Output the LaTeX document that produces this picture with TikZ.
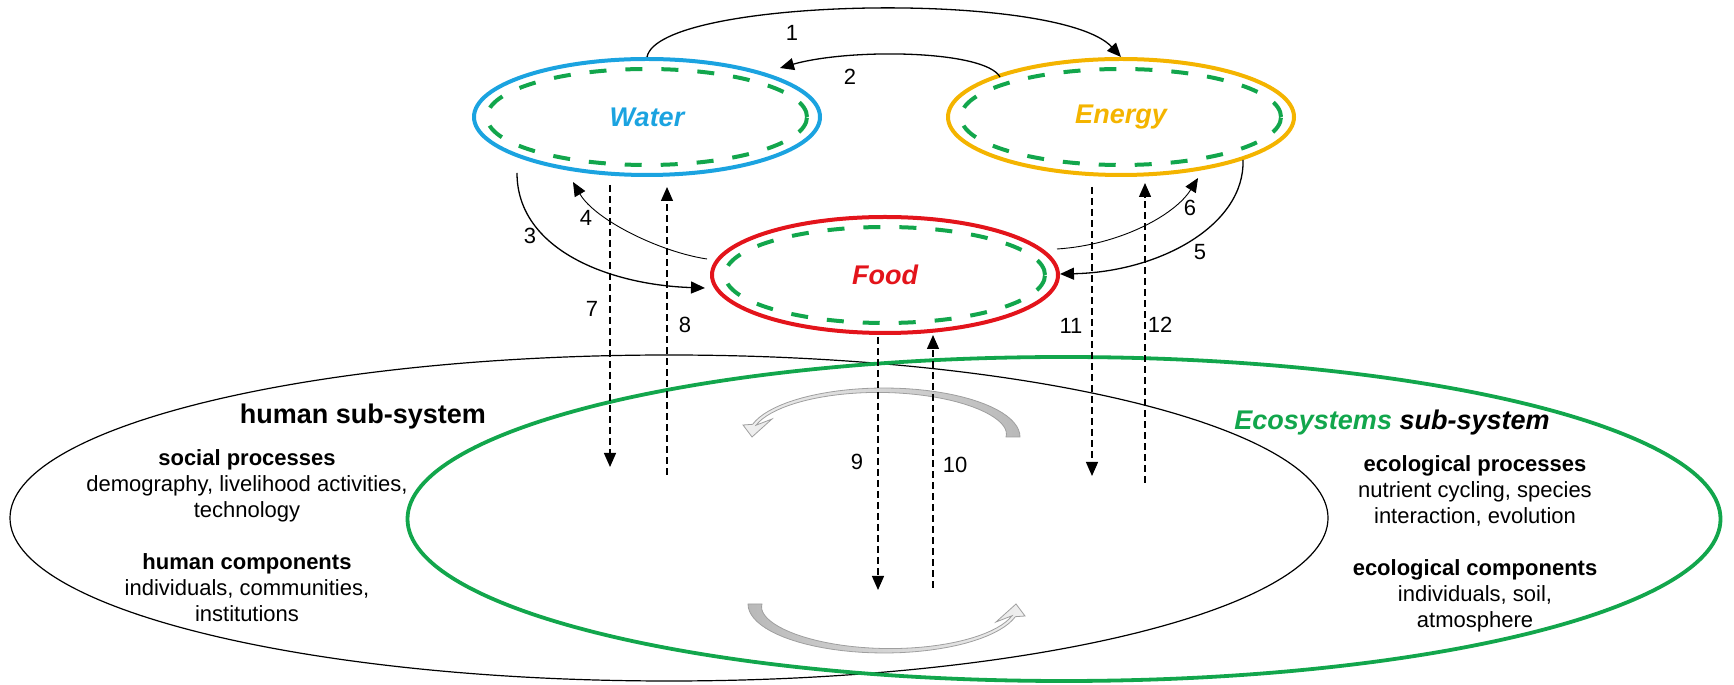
\documentclass[tikz,border=0pt]{standalone}
\usepackage{fontspec}
\setmainfont{Liberation Sans}
\usetikzlibrary{arrows.meta,calc,shapes.geometric}
\definecolor{waterblue}{HTML}{1BA3E0}
\definecolor{energygold}{HTML}{F4B400}
\definecolor{foodred}{HTML}{E3141B}
\definecolor{ecogreen}{HTML}{12A64C}

% tapered curved arrow (tail at the right, head at the left)
\tikzset{cycle fill/.style={left color=gray!12, right color=gray!55},
  cyclearrow/.pic={
  \path[draw=gray!75, line width=0.8pt, cycle fill]
    plot[domain=0:165, samples=40] ({136*cos(\x)}, {49*sin(\x)})
    -- (-141,12) -- (-132,0) -- (-112,18)
    -- plot[domain=165:0, samples=40] ({(132.5-10.5*(1-\x/165)^3)*cos(\x)}, {(45.5-10.5*(1-\x/165)^3)*sin(\x)})
    -- cycle;
}}

\begin{document}
\begin{tikzpicture}[x=1pt, y=1pt,
  font=\fontsize{22}{26}\selectfont,
  nexus/.style={draw, ellipse, line width=4pt, minimum width=346pt, minimum height=116pt, inner sep=0pt,
    font=\fontsize{27}{32}\selectfont\bfseries\itshape},
  rim/.style={ecogreen, line width=4pt, dash pattern=on 17pt off 19pt},
  sub/.style={draw, ellipse, line width=1.2pt, minimum width=1318pt, minimum height=326pt, inner sep=0pt},
  arr/.style={-{Triangle[length=14pt, width=12pt]}, line width=1.3pt},
  thin arr/.style={arr, line width=0.9pt},
  flow/.style={arr, dash pattern=on 7pt off 4pt},
  num/.style={inner sep=1pt},
  title/.style={font=\fontsize{27}{32}\selectfont\bfseries},
  block/.style={align=center, inner sep=0pt, anchor=north}]
  \useasboundingbox (0,0) rectangle (1734,685);
  % sub-systems
  \node[sub] (human) at (669,167) {};
  \node[sub, draw=ecogreen, line width=3.8pt, minimum width=1313pt, minimum height=324pt] (eco) at (1064,166) {};
  \node[title] (htitle) at (363,268.5) {human sub-system};
  \node[title, font=\fontsize{27}{32}\selectfont\bfseries\itshape] (etitle) at (1392,262.5) {\textcolor{ecogreen}{Ecosystems} sub-system};
  \node[block] (hlist) at (247,236) {\textbf{social processes}\\demography, livelihood activities,\\technology\\[26pt]
    \textbf{human components}\\individuals, communities,\\institutions};
  \node[block] (elist) at (1475,230) {\textbf{ecological processes}\\nutrient cycling, species\\interaction, evolution\\[26pt]
    \textbf{ecological components}\\individuals, soil,\\atmosphere};
  % cycles
  \pic at (884,248) {cyclearrow};
  \pic[rotate=180, cycle fill/.style={left color=gray!55, right color=gray!12}] at (884,81) {cyclearrow};
  % nexus
  \node[nexus, draw=waterblue, text=waterblue] (water) at (647,568) {Water};
  \node[nexus, draw=energygold, text=energygold] (energy) at (1121,568) {Energy};
  \node[nexus, draw=foodred, text=foodred] (food) at (885,410) {Food};
  \foreach \n in {water,energy,food} {\draw[rim] (\n.center) ellipse [x radius=160, y radius=48];}
  % links between the sectors
  \draw[arr] (water.north) .. controls +(12,60) and +(-62,67) .. (energy.north);
  \draw[arr] ($(energy)+(-121,40)$) .. controls +(-15,27) and +(70,20) .. ($(water)+(133,49)$);
  \draw[arr] ($(water)+(-130,-56)$) .. controls +(0,-77) and +(-95,3) .. ($(food)+(-180,-13)$);
  \draw[thin arr] ($(food)+(-178,16)$) .. controls +(-47,7) and +(22,-38) .. ($(water)+(-74,-65)$);
  \draw[arr] ($(energy)+(122,-43)$) .. controls +(2,-65) and +(100,2) .. ($(food)+(175,1)$);
  \draw[thin arr] ($(food)+(172,26)$) .. controls +(63,4) and +(-23,-37) .. ($(energy)+(77,-61)$);
  % links to the sub-systems
  \coordinate (d7) at (610,218);
  \coordinate (u8) at (667,210);
  \coordinate (d9) at (878,95);
  \coordinate (u10) at (933,97);
  \coordinate (d11) at (1092,209);
  \coordinate (u12) at (1145,202);
  \draw[flow] ($(water)+(-37,-68)$) -- (d7);
  \draw[flow] (u8) -- ($(water)+(20,-70)$);
  \draw[flow] ($(food)+(-7,-62)$) -- (d9);
  \draw[flow] (u10) -- ($(food)+(48,-60)$);
  \draw[flow] ($(energy)+(-29,-70)$) -- (d11);
  \draw[flow] (u12) -- ($(energy)+(24,-66)$);
  % numbers
  \foreach \k/\lx/\ly in {1/792/652, 2/850/608, 3/530/449, 4/586/467, 5/1200/433, 6/1190/477,
      7/592/376, 8/685/360, 9/857/223, 10/955/220, 11/1071/359, 12/1160/360}
    {\node[num] (n\k) at (\lx,\ly) {\k};}
\end{tikzpicture}
\end{document}
